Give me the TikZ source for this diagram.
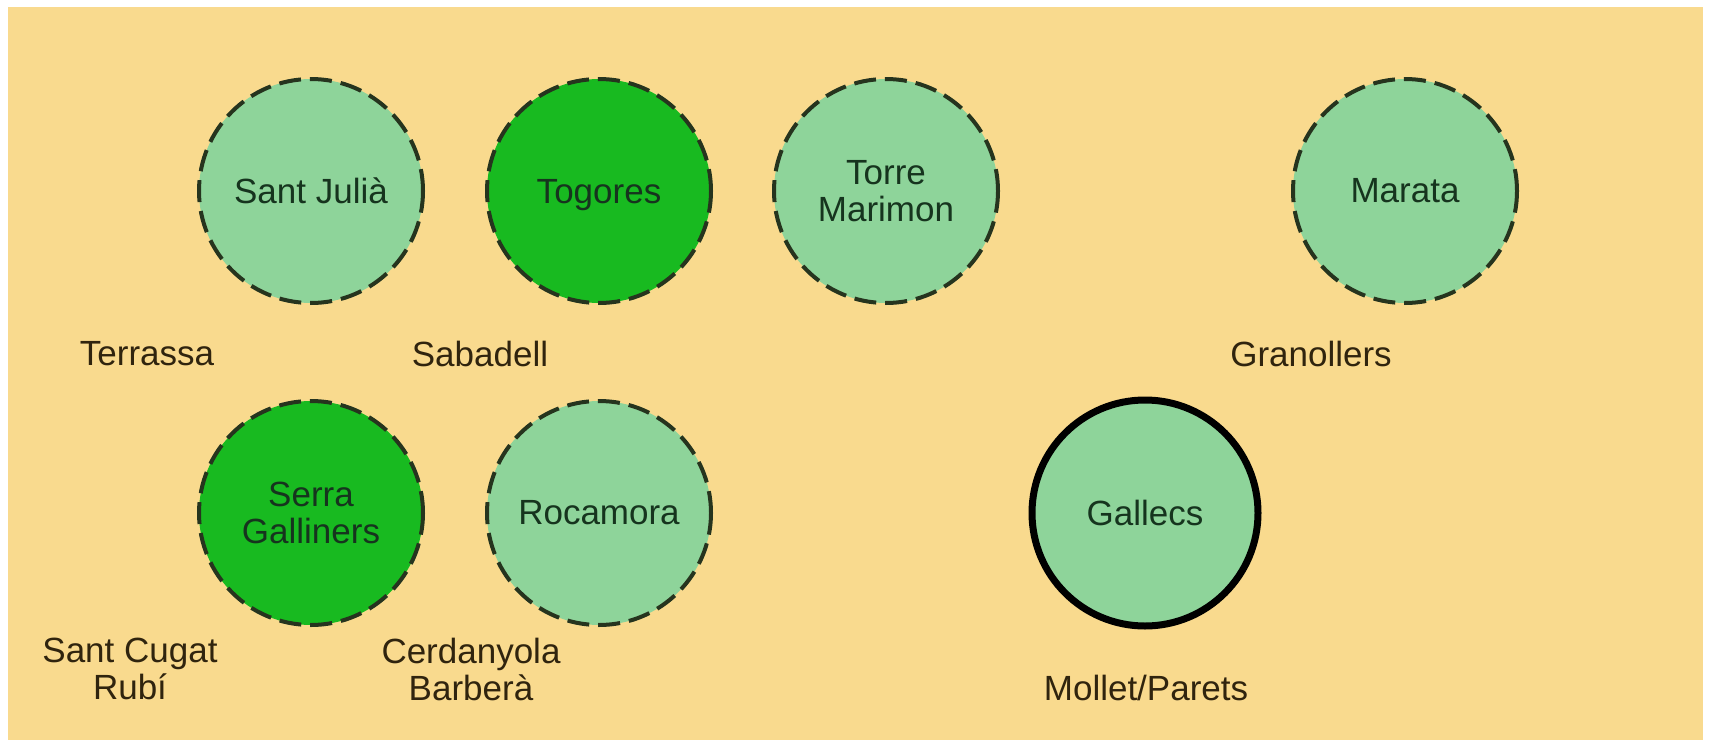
\documentclass[tikz,border=0pt]{standalone}
\usepackage{fontspec}
\setmainfont{Liberation Sans}
\definecolor{bgorange}{RGB}{249,218,142}
\definecolor{lightg}{RGB}{142,212,154}
\definecolor{darkg}{RGB}{24,186,32}
\definecolor{rimcol}{RGB}{38,52,30}
\definecolor{intext}{RGB}{22,52,30}
\definecolor{outtext}{RGB}{48,36,14}
\tikzset{
  site/.style={circle, minimum size=224pt, inner sep=0pt, align=center,
    font=\fontsize{35}{37}\selectfont, text=intext},
  dashrim/.style={draw=rimcol, line width=4pt, dash pattern=on 22pt off 9pt},
  solidrim/.style={draw=black, line width=7pt},
  pale/.style={fill=lightg},
  deep/.style={fill=darkg},
  town/.style={align=center, font=\fontsize{35}{37}\selectfont, text=outtext, inner sep=0pt}
}
\begin{document}
\begin{tikzpicture}[x=1pt,y=-1pt]
\useasboundingbox (0,0) rectangle (1710,744);
\fill[white] (0,0) rectangle (1710,744);
\fill[bgorange] (8,7) rectangle (1703,740);
\node[site, pale, dashrim] (santjulia) at (311,191) {Sant Julià};
\node[site, deep, dashrim, text depth=0pt] (togores) at (599,191) {Togores};
\node[site, pale, dashrim] (torremarimon) at (886,191) {Torre\\Marimon};
\node[site, pale, dashrim] (marata) at (1405,191) {Marata};
\node[site, deep, dashrim] (serragalliners) at (311,513) {Serra\\Galliners};
\node[site, pale, dashrim] (rocamora) at (599,513) {Rocamora};
\node[site, pale, solidrim, minimum size=226pt] (gallecs) at (1145,513) {Gallecs};
\node[town] (terrassa) at (147,354) {Terrassa};
\node[town] (sabadell) at (480,354) {Sabadell};
\node[town] (granollers) at (1311,354) {Granollers};
\node[town] (santcugat) at (130,669) {Sant Cugat\\Rubí};
\node[town] (cerdanyola) at (471,669) {Cerdanyola\\Barberà};
\node[town] (mollet) at (1146,688) {Mollet/Parets};
\end{tikzpicture}
\end{document}
